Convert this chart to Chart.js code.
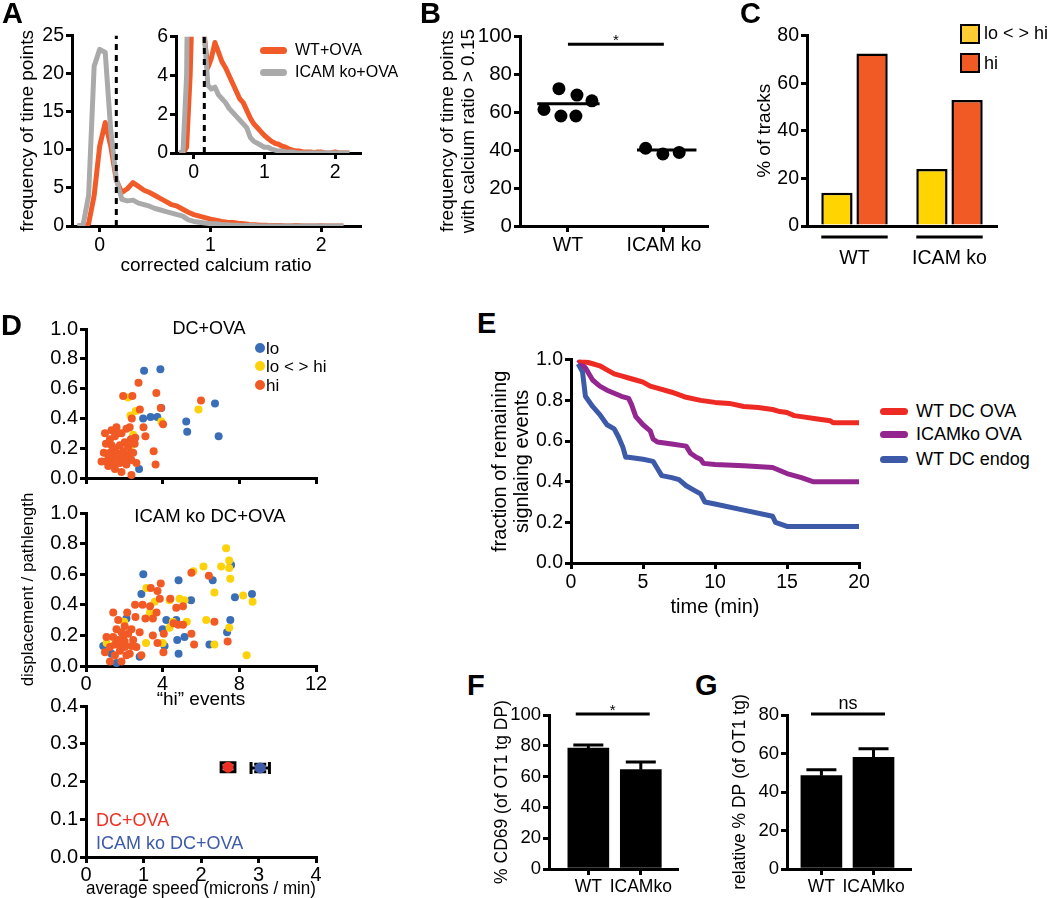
<!DOCTYPE html>
<html>
<head>
<meta charset="utf-8">
<script src="https://cdn.jsdelivr.net/npm/chart.js@4.4.0/dist/chart.umd.min.js"></script>
<style>
  body { margin: 0; background: #fff; }
  #fig { position: relative; width: 1050px; height: 898px; overflow: hidden;
         font-family: "Liberation Sans", Arial, Helvetica, sans-serif; color: #000; }
  #fig canvas { position: absolute; }
  .lbl { position: absolute; white-space: nowrap; line-height: 1; z-index: 2; }
  .mid { transform: translateX(-50%); }
  .letter { position: absolute; font-weight: bold; font-size: 29px; line-height: 1; z-index: 2; }
  .swatch { position: absolute; z-index: 2; }
</style>
</head>
<body>
<div id="fig">
  <div class="letter" style="left:2px;top:-1px">A</div>
  <div class="letter" style="left:420px;top:-1px">B</div>
  <div class="letter" style="left:740px;top:-1px">C</div>
  <div class="letter" style="left:1px;top:311px">D</div>
  <div class="letter" style="left:477px;top:309px">E</div>
  <div class="letter" style="left:467px;top:671px">F</div>
  <div class="letter" style="left:695px;top:671px">G</div>

  <!-- A legend -->
  <div class="swatch" style="left:260px;top:47px;width:27px;height:7px;border-radius:4px;background:#f15a29"></div>
  <div class="lbl" style="left:295px;top:42px;font-size:16px">WT+OVA</div>
  <div class="swatch" style="left:260px;top:69px;width:27px;height:7px;border-radius:4px;background:#aaaaaa"></div>
  <div class="lbl" style="left:295px;top:64px;font-size:16px">ICAM ko+OVA</div>

  <!-- C legend -->
  <div class="swatch" style="left:960px;top:24px;width:16px;height:16px;border:2px solid #000;background:#ffcc33"></div>
  <div class="lbl" style="left:984px;top:24px;font-size:18px">lo &lt; &gt; hi</div>
  <div class="swatch" style="left:960px;top:53px;width:16px;height:16px;border:2px solid #000;background:#f15a24"></div>
  <div class="lbl" style="left:984px;top:54px;font-size:18px">hi</div>

  <!-- D labels -->
  <div class="lbl mid" style="left:209px;top:319px;font-size:18px">DC+OVA</div>
  <div class="swatch" style="left:255px;top:343px;width:10px;height:10px;border-radius:5px;background:#3a6fb7"></div>
  <div class="lbl" style="left:266px;top:340px;font-size:17px">lo</div>
  <div class="swatch" style="left:255px;top:361px;width:10px;height:10px;border-radius:5px;background:#fdd20a"></div>
  <div class="lbl" style="left:266px;top:358px;font-size:17px">lo &lt; &gt; hi</div>
  <div class="swatch" style="left:255px;top:380px;width:10px;height:10px;border-radius:5px;background:#f15a24"></div>
  <div class="lbl" style="left:266px;top:377px;font-size:17px">hi</div>
  <div class="lbl mid" style="left:210px;top:507px;font-size:18.5px">ICAM ko DC+OVA</div>
  <div class="lbl" style="left:96px;top:811px;font-size:18px;color:#ee3124">DC+OVA</div>
  <div class="lbl" style="left:96px;top:834px;font-size:18px;color:#3d5ba9">ICAM ko DC+OVA</div>

  <!-- E legend -->
  <div class="swatch" style="left:880px;top:408px;width:28px;height:7px;border-radius:4px;background:#ee2a24"></div>
  <div class="lbl" style="left:916px;top:402px;font-size:18px">WT DC OVA</div>
  <div class="swatch" style="left:880px;top:431px;width:28px;height:7px;border-radius:4px;background:#93278f"></div>
  <div class="lbl" style="left:916px;top:425px;font-size:18px">ICAMko OVA</div>
  <div class="swatch" style="left:880px;top:456px;width:28px;height:7px;border-radius:4px;background:#3d5aa8"></div>
  <div class="lbl" style="left:916px;top:450px;font-size:18px">WT DC endog</div>
</div>

<script>
Chart.defaults.font.family = '"Liberation Sans", Arial, Helvetica, sans-serif';
Chart.defaults.font.size = 19.5;
Chart.defaults.color = '#000';

// ---------- A: calcium ratio histogram ----------
const calciumRatio = [-0.2, -0.15, -0.1, -0.05, 0, 0.05, 0.1, 0.15, 0.2, 0.25, 0.3, 0.35, 0.4, 0.45, 0.5,
  0.55, 0.6, 0.65, 0.7, 0.75, 0.8, 0.85, 0.9, 0.95, 1.0, 1.05, 1.1, 1.15, 1.2, 1.25, 1.3, 1.35, 1.4,
  1.45, 1.5, 1.55, 1.6, 1.65, 1.7, 1.75, 1.8, 1.85, 1.9, 1.95, 2.0, 2.05, 2.1, 2.15, 2.2];
const wtOvaFreq = [0, 0, 0.3, 4, 10.5, 13.6, 10.5, 6, 4.4, 4.9, 5.7, 5.2, 4.7, 4.4, 4.0,
  3.6, 3.2, 2.8, 2.6, 2.2, 1.8, 1.5, 1.3, 1.1, 0.9, 0.75, 0.6, 0.5, 0.45, 0.35, 0.3, 0.2, 0.15,
  0.1, 0.1, 0.05, 0.05, 0.05, 0, 0.05, 0.05, 0, 0, 0, 0.05, 0, 0, 0, 0];
const icamOvaFreq = [0, 0.1, 4, 21, 23.2, 22.8, 12.5, 6.2, 3.5, 3.3, 3.4, 3.0, 2.8, 2.6, 2.3,
  2.1, 1.9, 1.7, 1.5, 1.3, 0.8, 0.6, 0.5, 0.4, 0.3, 0.3, 0.2, 0.15, 0.1, 0.1, 0.05, 0.05, 0.05,
  0, 0, 0, 0, 0, 0, 0, 0, 0, 0, 0, 0, 0, 0, 0, 0];
const calciumThreshold = 0.15;
const calciumTicks = [0, 1, 2];
const freqTicks = [0, 5, 10, 15, 20, 25];
const insetFreqTicks = [0, 2, 4, 6];

// ---------- B: fraction of time points above threshold ----------
const groupsB = ['WT', 'ICAM ko'];
const wtJitter = [0.906, 1.094, 1.25, 0.75, 0.927, 1.083];
const wtAbove = [72.4, 69, 66, 61.4, 58, 58];
const icamJitter = [1.81, 1.99, 2.16];
const icamAbove = [41, 38, 38.8];
const medianB = [64.5, 40];
const percentTicks = [0, 20, 40, 60, 80, 100];

// ---------- C: track classes ----------
const groupsC = ['WT', 'ICAM ko'];
const loHiPct = [14, 24];
const hiPct = [72.5, 53];
const tracksTicks = [0, 20, 40, 60, 80];

// ---------- D: hi events vs straightness ----------
const eventTicks = [0, 4, 8, 12];
const ratioTicks = [0, 0.2, 0.4, 0.6, 0.8, 1.0];
const dcLoX = [3.03, 3.88, 2.98, 3.37, 3.72, 3.93, 5.23, 5.28, 6.73, 6.92, 2.77, 2.37, 2.46];
const dcLoY = [0.72, 0.73, 0.40, 0.41, 0.41, 0.47, 0.38, 0.31, 0.50, 0.28, 0.06, 0.17, 0.24];
const dcMidX = [2.2, 2.32, 2.6, 2.46, 3.93, 5.87, 2.37];
const dcMidY = [0.54, 0.42, 0.45, 0.29, 0.38, 0.46, 0.22];
const dcHiX = [2.74, 1.94, 2.42, 3.67, 2.81, 3.9, 2.39, 3.0, 4.02, 6.0, 2.28, 2.57, 3.1, 3.53, 3.63, 2.37, 2.63,
  0.99, 1.33, 1.59, 1.85, 2.11, 2.34, 1.04, 1.33, 0.93, 1.25, 1.51, 1.77, 2.02, 2.2, 2.54, 0.81, 1.07, 1.42,
  1.68, 1.94, 2.2, 2.46, 1.16, 1.51, 1.85, 2.11, 2.37, 1.77, 1.42, 1.16, 1.59, 1.94, 2.02, 1.25, 1.51, 1.68];
const dcHiY = [0.64, 0.55, 0.55, 0.57, 0.46, 0.47, 0.40, 0.34, 0.36, 0.52, 0.34, 0.27, 0.28, 0.18, 0.09, 0.02, 0.10,
  0.30, 0.32, 0.34, 0.30, 0.33, 0.26, 0.23, 0.22, 0.17, 0.17, 0.20, 0.22, 0.24, 0.21, 0.23, 0.11, 0.11, 0.13,
  0.14, 0.14, 0.16, 0.17, 0.08, 0.06, 0.04, 0.09, 0.12, 0.10, 0.09, 0.15, 0.17, 0.18, 0.12, 0.26, 0.28, 0.30];

const koLoX = [2.99, 4.83, 7.57, 6.61, 5.48, 7.77, 8.66, 7.53, 7.36, 6.44, 5.14, 4.76, 4.83, 4.1, 4.0, 4.19,
  4.71, 2.89, 0.9, 1.59, 2.11, 2.8, 1.33];
const koLoY = [0.60, 0.56, 0.66, 0.56, 0.43, 0.45, 0.47, 0.30, 0.22, 0.14, 0.19, 0.17, 0.08, 0.13, 0.24, 0.30,
  0.30, 0.47, 0.13, 0.02, 0.31, 0.06, 0.08];
const koMidX = [7.31, 7.47, 7.05, 6.13, 5.6, 7.47, 7.53, 6.7, 8.2, 8.69, 3.15, 3.58, 4.36, 4.88, 5.14, 4.36,
  4.53, 5.26, 6.27, 7.47, 6.7, 8.38, 1.08, 4.0, 3.13, 1.99, 3.34];
const koMidY = [0.77, 0.69, 0.65, 0.65, 0.62, 0.64, 0.57, 0.48, 0.46, 0.42, 0.51, 0.42, 0.43, 0.44, 0.43, 0.25,
  0.29, 0.29, 0.30, 0.25, 0.14, 0.07, 0.15, 0.15, 0.15, 0.29, 0.35];
const koHiX = [1.42, 1.68, 2.02, 2.15, 2.56, 2.95, 3.38, 3.73, 3.9, 3.85, 3.68, 3.34, 4.4, 4.71, 5.06, 5.5,
  6.41, 6.7, 7.39, 5.5, 5.64, 4.81, 5.06, 4.57, 4.06, 3.49, 3.73, 4.04, 2.89, 2.8, 3.1, 2.58, 3.49, 2.37,
  0.99, 1.25, 1.51, 1.77, 2.02, 2.28, 1.42, 1.68, 1.94, 2.2, 2.46, 2.63, 1.59, 1.85, 1.25, 1.85, 1.51, 2.11,
  1.77, 1.07, 2.02, 2.37];
const koHiY = [0.35, 0.30, 0.26, 0.35, 0.40, 0.40, 0.51, 0.49, 0.54, 0.44, 0.35, 0.39, 0.44, 0.38, 0.39, 0.61,
  0.59, 0.29, 0.16, 0.21, 0.14, 0.27, 0.27, 0.28, 0.21, 0.20, 0.15, 0.09, 0.07, 0.22, 0.31, 0.32, 0.31, 0.24,
  0.09, 0.125, 0.14, 0.10, 0.125, 0.08, 0.19, 0.17, 0.19, 0.21, 0.17, 0.125, 0.24, 0.22, 0.03, 0.03, 0.07, 0.07,
  0.14, 0.19, 0.16, 0.13];

const speedTicks = [0, 1, 2, 3, 4];
const straightTicks = [0, 0.1, 0.2, 0.3, 0.4];
const speedMean = [2.47, 3.03];
const speedErr = [0.12, 0.16];
const straightMean = [0.238, 0.236];
const straightErr = [0.012, 0.01];

// ---------- E: remaining signaling events ----------
const timeTicks = [0, 5, 10, 15, 20];
const wtOvaTime = [0.5, 1, 1.5, 2, 2.5, 3, 3.5, 4, 4.5, 5, 5.5, 6, 7, 8, 9, 10, 11, 12, 13, 14, 14.5, 15, 15.5, 16, 17, 18, 18.2, 20];
const wtOvaFrac = [1, 0.99, 0.98, 0.97, 0.95, 0.93, 0.92, 0.91, 0.9, 0.89, 0.87, 0.86, 0.84, 0.815, 0.8, 0.79,
  0.785, 0.77, 0.765, 0.755, 0.745, 0.74, 0.725, 0.72, 0.71, 0.70, 0.69, 0.69];
const icamOvaTime = [0.5, 1, 1.5, 2, 2.5, 3, 3.5, 4, 4.2, 4.5, 5, 5.5, 5.7, 6, 7, 8, 8.3, 8.7, 9, 9.2, 10, 12, 14, 14.5, 15, 16, 16.8, 20];
const icamOvaFrac = [1, 0.96, 0.9, 0.87, 0.85, 0.835, 0.82, 0.81, 0.78, 0.72, 0.68, 0.65, 0.61, 0.595, 0.585,
  0.575, 0.54, 0.52, 0.51, 0.49, 0.485, 0.478, 0.47, 0.455, 0.44, 0.42, 0.40, 0.40];
const wtEndogTime = [0.5, 0.8, 1, 1.5, 2, 2.5, 3, 3.3, 3.6, 3.8, 4, 5, 5.7, 6, 6.3, 7, 7.5, 8, 8.5, 9, 9.3, 10, 12, 14, 14.2, 15, 20];
const wtEndogFrac = [0.98, 0.94, 0.82, 0.77, 0.73, 0.68, 0.66, 0.62, 0.57, 0.52, 0.52, 0.51, 0.50, 0.465, 0.43,
  0.42, 0.41, 0.38, 0.36, 0.34, 0.30, 0.29, 0.26, 0.23, 0.20, 0.18, 0.18];

// ---------- F, G: bars ----------
const groupsFG = ['WT', 'ICAMko'];
const cd69Mean = [78.5, 64.5];
const cd69Err = [2, 5];
const dpMean = [48.5, 58];
const dpErr = [3, 4.5];
const dpTicks = [0, 20, 40, 60, 80];

// ---------- helpers ----------
const fig = document.getElementById('fig');
const xy = (xs, ys) => xs.map((x, i) => ({x, y: ys[i]}));

function linAxis(min, max, ticks, o = {}) {
  return {
    type: 'linear', min, max, offset: false,
    afterBuildTicks: s => { s.ticks = ticks.map(v => ({value: v})); },
    border: {display: true, color: '#000', width: 3},
    grid: {display: true, drawOnChartArea: false, offset: false, color: '#000', lineWidth: 3,
           tickLength: o.tickLength ?? 6},
    ticks: {color: '#000', padding: o.pad ?? 2, autoSkip: false, maxRotation: 0,
            font: {size: o.tickSize ?? 19.5}, callback: o.fmt || (v => v)},
    title: o.title ? {display: true, text: o.title, color: '#000', padding: 0,
                      font: {size: o.titleSize ?? 19, lineHeight: 1.1}} : {display: false}
  };
}

// area = chart area on the page [left, right, top, bottom]; m = room for axes [l, r, t, b]
function panel(area, m, config) {
  const [x0, x1, y0, y1] = area;
  const [ml, mr, mt, mb] = m;
  const w = x1 - x0 + ml + mr, h = y1 - y0 + mt + mb;
  const cv = document.createElement('canvas');
  cv.width = w; cv.height = h;
  cv.style.left = (x0 - ml) + 'px'; cv.style.top = (y0 - mt) + 'px';
  cv.style.width = w + 'px'; cv.style.height = h + 'px';
  fig.appendChild(cv);
  const o = config.options;
  o.responsive = false; o.animation = false; o.devicePixelRatio = 1;
  o.layout = {padding: {left: 0, right: mr, top: mt, bottom: 0}};
  o.plugins = Object.assign({legend: {display: false}, tooltip: {enabled: false}}, o.plugins || {});
  o.scales.x.afterFit = s => { s.height = mb; };
  o.scales.y.afterFit = s => { s.width = ml; };
  return new Chart(cv, config);
}

const dashedAt = value => ({
  id: 'threshold',
  afterDatasetsDraw(chart) {
    const {ctx, chartArea, scales} = chart;
    const x = scales.x.getPixelForValue(value);
    ctx.save();
    ctx.strokeStyle = '#000'; ctx.lineWidth = 3; ctx.setLineDash([6, 5]);
    ctx.beginPath(); ctx.moveTo(x, chartArea.bottom); ctx.lineTo(x, chartArea.top); ctx.stroke();
    ctx.restore();
  }
});

const sigBar = (from, to, level, text, size) => ({
  id: 'sig',
  afterDraw(chart) {
    const {ctx, scales: {x, y}} = chart;
    const py = y.getPixelForValue(level);
    const a = x.getPixelForValue(from), b = x.getPixelForValue(to);
    ctx.save();
    ctx.strokeStyle = '#000'; ctx.lineWidth = 3;
    ctx.beginPath(); ctx.moveTo(a, py); ctx.lineTo(b, py); ctx.stroke();
    ctx.fillStyle = '#000'; ctx.font = size + 'px "Liberation Sans", Arial, sans-serif';
    ctx.textAlign = 'center'; ctx.textBaseline = 'alphabetic';
    ctx.fillText(text, (a + b) / 2, py - (text === '*' ? -1 : 5));
    ctx.restore();
  }
});

const barErrors = (means, errs) => ({
  id: 'barErr',
  afterDatasetsDraw(chart) {
    const {ctx, scales: {y}} = chart;
    ctx.save(); ctx.strokeStyle = '#000'; ctx.lineWidth = 3;
    chart.getDatasetMeta(0).data.forEach((bar, i) => {
      const top = y.getPixelForValue(means[i] + errs[i]);
      ctx.beginPath();
      ctx.moveTo(bar.x, bar.y); ctx.lineTo(bar.x, top);
      ctx.moveTo(bar.x - 15, top); ctx.lineTo(bar.x + 15, top);
      ctx.stroke();
    });
    ctx.restore();
  }
});

// ---------- A ----------
const lineSet = (data, color, order) => ({data, borderColor: color, borderWidth: 5, pointRadius: 0,
  tension: 0, borderJoinStyle: 'round', order});

panel([72, 360, 34, 226], [55, 20, 12, 50], {
  type: 'line',
  data: {datasets: [
    lineSet(xy(calciumRatio, icamOvaFreq), '#aaaaaa', 0),
    lineSet(xy(calciumRatio, wtOvaFreq), '#f15a29', 1)
  ]},
  options: {scales: {
    x: linAxis(-0.25, 2.35, calciumTicks, {title: 'corrected calcium ratio'}),
    y: linAxis(0, 25, freqTicks, {title: 'frequency of time points'})
  }},
  plugins: [dashedAt(calciumThreshold)]
});

panel([176, 360, 35, 153], [30, 20, 12, 30], {
  type: 'line',
  data: {datasets: [
    lineSet(xy(calciumRatio, icamOvaFreq), '#aaaaaa', 0),
    lineSet(xy(calciumRatio, wtOvaFreq), '#f15a29', 1)
  ]},
  options: {scales: {
    x: linAxis(-0.25, 2.35, calciumTicks),
    y: linAxis(0, 6, insetFreqTicks)
  }},
  plugins: [dashedAt(calciumThreshold)]
});

// ---------- B ----------
const dot = (data) => ({data, pointRadius: 6.5, pointBackgroundColor: '#000', pointBorderWidth: 0, clip: false});
const median = (from, to, v) => ({data: [{x: from, y: v}, {x: to, y: v}], showLine: true, borderColor: '#000',
  borderWidth: 3, pointRadius: 0});

panel([520, 707, 34, 226], [83, 10, 12, 45], {
  type: 'scatter',
  data: {datasets: [
    dot(xy(wtJitter, wtAbove)),
    dot(xy(icamJitter, icamAbove)),
    median(0.68, 1.33, medianB[0]),
    median(1.72, 2.34, medianB[1])
  ]},
  options: {scales: {
    x: linAxis(0.5, 2.45, [1, 2], {fmt: v => groupsB[v - 1]}),
    y: linAxis(0, 100, percentTicks, {tickSize: 20.5,
         title: ['frequency of time points', 'with calcium ratio > 0.15']})
  }},
  plugins: [sigBar(1, 2, 95.8, '*', 15)]
});

// ---------- C ----------
const groupLines = {
  id: 'groupLines',
  afterDraw(chart) {
    const {ctx, chartArea} = chart;
    const m0 = chart.getDatasetMeta(0).data, m1 = chart.getDatasetMeta(1).data;
    ctx.save(); ctx.strokeStyle = '#000'; ctx.lineWidth = 3;
    m0.forEach((b, i) => {
      ctx.beginPath();
      ctx.moveTo(b.x - b.width / 2, chartArea.bottom + 11);
      ctx.lineTo(m1[i].x + m1[i].width / 2, chartArea.bottom + 11);
      ctx.stroke();
    });
    ctx.restore();
  }
};

panel([807, 997, 34, 226], [53, 10, 12, 40], {
  type: 'bar',
  data: {labels: groupsC, datasets: [
    {data: loHiPct, backgroundColor: '#ffd400', borderColor: '#000', borderWidth: 2.5,
     categoryPercentage: 0.74, barPercentage: 0.89},
    {data: hiPct, backgroundColor: '#f15a24', borderColor: '#000', borderWidth: 2.5,
     categoryPercentage: 0.74, barPercentage: 0.89}
  ]},
  options: {scales: {
    x: {type: 'category', grid: {display: false}, border: {display: true, color: '#000', width: 3},
        ticks: {color: '#000', padding: 13, maxRotation: 0}},
    y: linAxis(0, 80, tracksTicks, {title: '% of tracks'})
  }},
  plugins: [groupLines]
});

// ---------- D ----------
const pts = (data, color, order) => ({data, pointRadius: 4, pointBackgroundColor: color,
  pointBorderWidth: 0, clip: false, order});
const fmt1 = v => v.toFixed(1);

panel([86, 316, 327, 480], [67, 14, 12, 12], {
  type: 'scatter',
  data: {datasets: [
    pts(xy(dcLoX, dcLoY), '#3a6fb7', 2),
    pts(xy(dcMidX, dcMidY), '#fdd20a', 1),
    pts(xy(dcHiX, dcHiY), '#f15a24', 0)
  ]},
  options: {scales: {
    x: linAxis(0, 12, eventTicks, {fmt: () => ''}),
    y: linAxis(0, 1, ratioTicks, {fmt: fmt1, tickSize: 20})
  }}
});

panel([86, 316, 513, 666], [67, 14, 36, 44], {
  type: 'scatter',
  data: {datasets: [
    pts(xy(koLoX, koLoY), '#3a6fb7', 2),
    pts(xy(koMidX, koMidY), '#fdd20a', 1),
    pts(xy(koHiX, koHiY), '#f15a24', 0)
  ]},
  options: {scales: {
    x: linAxis(0, 12, eventTicks, {title: '\u201chi\u201d events', tickSize: 20, pad: 0}),
    y: linAxis(0, 1, ratioTicks, {fmt: fmt1, tickSize: 20, title: 'displacement / pathlength', titleSize: 17})
  }}
});

const xyErrors = {
  id: 'xyErr',
  beforeDatasetsDraw(chart) {
    const {ctx, scales: {x, y}} = chart;
    ctx.save(); ctx.strokeStyle = '#000'; ctx.lineWidth = 3;
    speedMean.forEach((m, i) => {
      const px = x.getPixelForValue(m), py = y.getPixelForValue(straightMean[i]);
      const xl = x.getPixelForValue(m - speedErr[i]), xr = x.getPixelForValue(m + speedErr[i]);
      const yt = y.getPixelForValue(straightMean[i] + straightErr[i]);
      const yb = y.getPixelForValue(straightMean[i] - straightErr[i]);
      const capW = i === 0 ? (xr - xl) / 2 : 6;
      ctx.beginPath();
      ctx.moveTo(xl, py); ctx.lineTo(xr, py);
      ctx.moveTo(xl, py - 6); ctx.lineTo(xl, py + 6);
      ctx.moveTo(xr, py - 6); ctx.lineTo(xr, py + 6);
      ctx.moveTo(px, yt); ctx.lineTo(px, yb);
      ctx.moveTo(px - capW, yt); ctx.lineTo(px + capW, yt);
      ctx.moveTo(px - capW, yb); ctx.lineTo(px + capW, yb);
      ctx.stroke();
    });
    ctx.restore();
  }
};

panel([86, 316, 704, 857], [67, 14, 12, 42], {
  type: 'scatter',
  data: {datasets: [
    {data: [{x: speedMean[0], y: straightMean[0]}], pointRadius: 5.5, pointBackgroundColor: '#ee3124', pointBorderWidth: 0},
    {data: [{x: speedMean[1], y: straightMean[1]}], pointRadius: 5.5, pointBackgroundColor: '#3d5ba9', pointBorderWidth: 0}
  ]},
  options: {scales: {
    x: linAxis(0, 4, speedTicks, {title: 'average speed (microns / min)', tickSize: 20, pad: 0}),
    y: linAxis(0, 0.4, straightTicks, {fmt: fmt1, tickSize: 20})
  }},
  plugins: [xyErrors]
});

// ---------- E ----------
panel([571, 859, 358, 563], [82, 14, 12, 55], {
  type: 'line',
  data: {datasets: [
    lineSet(xy(wtOvaTime, wtOvaFrac), '#ee2a24', 0),
    lineSet(xy(icamOvaTime, icamOvaFrac), '#93278f', 1),
    lineSet(xy(wtEndogTime, wtEndogFrac), '#3d5aa8', 2)
  ]},
  options: {scales: {
    x: linAxis(0, 20, timeTicks, {title: 'time (min)', titleSize: 20}),
    y: linAxis(0, 1, ratioTicks, {fmt: fmt1, titleSize: 20,
         title: ['fraction of remaining', 'signlaing events']})
  }}
});

// ---------- F ----------
panel([549, 677, 715, 869], [56, 10, 20, 30], {
  type: 'bar',
  data: {datasets: [{data: xy([1, 2], cd69Mean), backgroundColor: '#000', barThickness: 41}]},
  options: {scales: {
    x: linAxis(0.25, 2.69, [1, 2], {fmt: v => groupsFG[v - 1], tickSize: 17.5}),
    y: linAxis(0, 100, percentTicks, {title: '% CD69 (of OT1 tg DP)', titleSize: 17.5, tickSize: 18.5})
  }},
  plugins: [barErrors(cd69Mean, cd69Err), sigBar(0.76, 2.17, 100.6, '*', 15)]
});

// ---------- G ----------
panel([787, 910, 715, 869], [56, 10, 20, 30], {
  type: 'bar',
  data: {datasets: [{data: xy([1, 2], dpMean), backgroundColor: '#000', barThickness: 41}]},
  options: {scales: {
    x: linAxis(0.34, 2.7, [1, 2], {fmt: v => groupsFG[v - 1], tickSize: 17.5}),
    y: linAxis(0, 80, dpTicks, {title: 'relative % DP (of OT1 tg)', titleSize: 17.5, tickSize: 18.5})
  }},
  plugins: [barErrors(dpMean, dpErr), sigBar(0.8, 2.22, 80.5, 'ns', 18)]
});
</script>
</body>
</html>
